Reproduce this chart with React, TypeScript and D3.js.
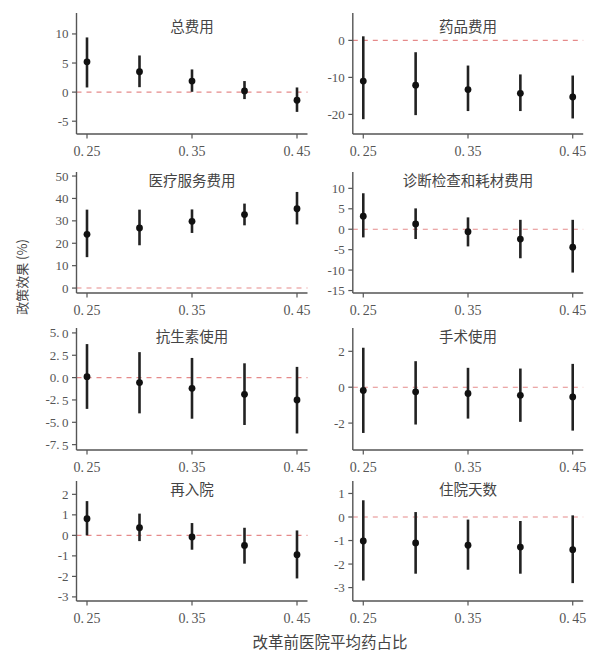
import React from "react";
import * as d3 from "d3";

const xValues = [0.25, 0.3, 0.35, 0.4, 0.45];
const xTicks = [0.25, 0.35, 0.45];
const xTickLabels = ["0.25", "0.35", "0.45"];

const titles = ["总费用", "药品费用", "医疗服务费用", "诊断检查和耗材费用", "抗生素使用", "手术使用", "再入院", "住院天数"];

const estTotal = [5.2, 3.5, 1.9, 0.2, -1.4];
const loTotal = [0.8, 0.85, 0.05, -1.2, -3.4];
const hiTotal = [9.4, 6.3, 3.9, 1.9, 0.8];

const estDrug = [-11.0, -12.1, -13.3, -14.3, -15.3];
const loDrug = [-21.3, -20.2, -19.1, -19.1, -21.1];
const hiDrug = [1.1, -3.2, -6.8, -9.2, -9.5];

const estService = [24.0, 26.8, 29.8, 32.8, 35.4];
const loService = [13.8, 19.1, 24.6, 28.0, 28.4];
const hiService = [35.0, 35.0, 35.1, 37.7, 42.9];

const estExam = [3.2, 1.3, -0.6, -2.4, -4.4];
const loExam = [-2.0, -2.4, -4.2, -7.1, -10.6];
const hiExam = [8.8, 5.1, 2.9, 2.3, 2.3];

const estAnti = [0.1, -0.56, -1.2, -1.87, -2.5];
const loAnti = [-3.5, -4.0, -4.6, -5.3, -6.25];
const hiAnti = [3.75, 2.85, 2.2, 1.6, 1.2];

const estSurg = [-0.18, -0.26, -0.35, -0.45, -0.54];
const loSurg = [-2.55, -2.08, -1.75, -1.93, -2.42];
const hiSurg = [2.2, 1.45, 1.08, 1.04, 1.3];

const estReadm = [0.81, 0.37, -0.08, -0.49, -0.94];
const loReadm = [0.0, -0.28, -0.7, -1.38, -2.1];
const hiReadm = [1.67, 1.06, 0.6, 0.37, 0.24];

const estLos = [-1.02, -1.1, -1.2, -1.28, -1.39];
const loLos = [-2.7, -2.41, -2.24, -2.41, -2.81];
const hiLos = [0.71, 0.21, -0.11, -0.17, 0.07];

const ticksTotal = [-5, 0, 5, 10];
const ticksDrug = [-20, -10, 0];
const ticksService = [0, 10, 20, 30, 40, 50];
const ticksExam = [-15, -10, -5, 0, 5, 10];
const ticksAnti = [-7.5, -5, -2.5, 0, 2.5, 5];
const ticksSurg = [-2, 0, 2];
const ticksReadm = [-3, -2, -1, 0, 1, 2];
const ticksLos = [-3, -2, -1, 0, 1];

const domTotal = [-7.2, 13.6];
const domDrug = [-25.3, 7.4];
const domService = [-2.2, 51.8];
const domExam = [-15.6, 14.0];
const domAnti = [-8.1, 5.55];
const domSurg = [-3.5, 3.3];
const domReadm = [-3.2, 2.65];
const domLos = [-3.57, 1.53];

const panels = [
  { est: estTotal, lo: loTotal, hi: hiTotal, ticks: ticksTotal, dom: domTotal, dec: 0 },
  { est: estDrug, lo: loDrug, hi: hiDrug, ticks: ticksDrug, dom: domDrug, dec: 0 },
  { est: estService, lo: loService, hi: hiService, ticks: ticksService, dom: domService, dec: 0 },
  { est: estExam, lo: loExam, hi: hiExam, ticks: ticksExam, dom: domExam, dec: 0 },
  { est: estAnti, lo: loAnti, hi: hiAnti, ticks: ticksAnti, dom: domAnti, dec: 1 },
  { est: estSurg, lo: loSurg, hi: hiSurg, ticks: ticksSurg, dom: domSurg, dec: 0 },
  { est: estReadm, lo: loReadm, hi: hiReadm, ticks: ticksReadm, dom: domReadm, dec: 0 },
  { est: estLos, lo: loLos, hi: hiLos, ticks: ticksLos, dom: domLos, dec: 0 },
];

const colRanges = [
  [76.5, 307.5],
  [352.8, 583.2],
];
const rowRanges = [
  [13, 134],
  [172, 293],
  [328, 450],
  [481, 601],
];
const titleY = [25, 179, 335, 488];

const serif = "'Liberation Serif', 'Noto Sans CJK SC', serif";
const cjk = "'Noto Sans CJK SC', sans-serif";
const axisColor = "#555";
const labelColor = "#555";

function NumLabel({ s, ...rest }: any) {
  const parts = s.split(".");
  if (parts.length < 2) return <text {...rest}>{s}</text>;
  return (
    <text {...rest}>
      {parts[0]}.<tspan dx={2.5}>{parts[1]}</tspan>
    </text>
  );
}

function Panel({ i }: { i: number }) {
  const p = panels[i];
  const col = i % 2;
  const row = Math.floor(i / 2);
  const [x0, x1] = colRanges[col];
  const [top, bottom] = rowRanges[row];
  const x = d3.scaleLinear().domain([0.24, 0.46]).range([x0, x1]);
  const y = d3.scaleLinear().domain(p.dom).range([bottom, top]);
  const fmt = (v: number) => {
    const t = p.dec ? v.toFixed(1) : String(v);
    return t;
  };
  return (
    <g>
      <line x1={x0} x2={x1} y1={y(0)} y2={y(0)} stroke="#e58a8a" strokeWidth={1.1} strokeDasharray="5,5" />
      {xValues.map((xv, k) => (
        <g key={k}>
          <line x1={x(xv)} x2={x(xv)} y1={y(p.lo[k])} y2={y(p.hi[k])} stroke="#222" strokeWidth={2.6} />
          <circle cx={x(xv)} cy={y(p.est[k])} r={3.4} fill="#111" />
        </g>
      ))}
      <line x1={x0} x2={x0} y1={top} y2={bottom} stroke={axisColor} strokeWidth={1.4} />
      <line x1={x0} x2={x1} y1={bottom} y2={bottom} stroke={axisColor} strokeWidth={1.4} />
      {p.ticks.map((t, k) => (
        <g key={k}>
          <line x1={x0 - 4.5} x2={x0} y1={y(t)} y2={y(t)} stroke={axisColor} strokeWidth={1.2} />
          <NumLabel s={fmt(t)} x={x0 - 8} y={y(t)} textAnchor="end" dominantBaseline="central" fontFamily={serif} fontSize={13} fill={labelColor} />
        </g>
      ))}
      {xTicks.map((t, k) => (
        <g key={k}>
          <line x1={x(t)} x2={x(t)} y1={bottom} y2={bottom + 4.5} stroke={axisColor} strokeWidth={1.2} />
          <NumLabel s={xTickLabels[k]} x={x(t)} y={bottom + 17} textAnchor="middle" dominantBaseline="central" fontFamily={serif} fontSize={14} fill={labelColor} />
        </g>
      ))}
      <text x={(x0 + x1) / 2} y={titleY[row]} textAnchor="middle" dominantBaseline="central" fontFamily={cjk} fontSize={14.5} fill="#444">
        {titles[i]}
      </text>
    </g>
  );
}

export default function App() {
  return (
    <svg width={592} height={652} style={{ position: "absolute", left: 0, top: 0, background: "#fff" }}>
      <rect x={0} y={0} width={592} height={652} fill="#fff" />
      {panels.map((_, i) => (
        <Panel key={i} i={i} />
      ))}
      <text x={21} y={277} transform="rotate(-90 21 277)" textAnchor="middle" dominantBaseline="central" fontFamily={cjk} fontSize={13} fill="#444">
        政策效果 (%)
      </text>
      <text x={330} y={641} textAnchor="middle" dominantBaseline="central" fontFamily={cjk} fontSize={15.5} fill="#444">
        改革前医院平均药占比
      </text>
    </svg>
  );
}
